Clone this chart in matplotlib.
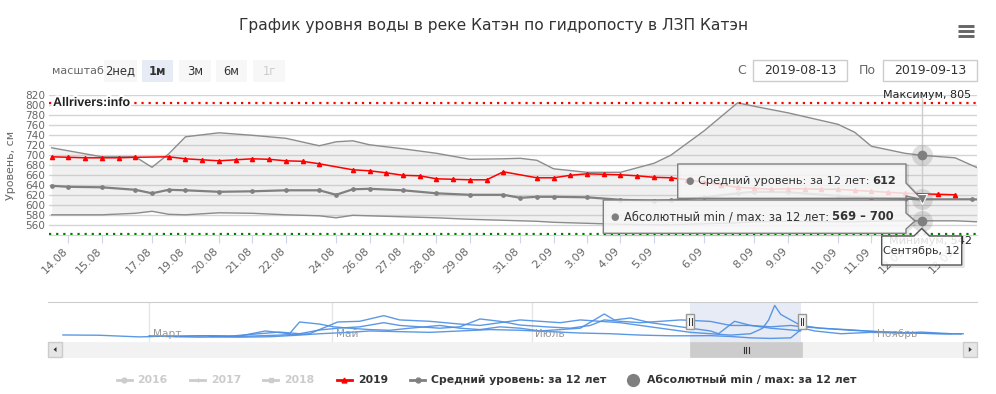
import matplotlib
matplotlib.use("Agg")
import matplotlib.pyplot as plt
from matplotlib.patches import Rectangle, Polygon
import matplotlib.patheffects as pe

plt.rcParams['font.family'] = ['DejaVu Sans']

# ------------------------------------------------------------------ data
title = "График уровня воды в реке Катэн по гидропосту в ЛЗП Катэн"
y_title = "Уровень, см"
y_ticks = list(range(560, 821, 20))

# ordinal point positions (one step per measurement) and date tick labels
tick_pos = [1, 3, 6, 8, 10, 12, 14, 17, 19, 21, 23, 25, 28, 30, 32, 34, 36, 39, 42, 44, 47, 49, 51, 54]
tick_labels = ["14.08", "15.08", "17.08", "19.08", "20.08", "21.08", "22.08", "24.08", "26.08",
               "27.08", "28.08", "29.08", "31.08", "2.09", "3.09", "4.09", "5.09", "6.09", "8.09",
               "9.09", "10.09", "11.09", "12.09", "13.09"]

# 2019 series
y2019_k = [0, 1, 2, 3, 4, 5, 7, 8, 9, 10, 11, 12, 13, 14, 15, 16, 18, 19, 20, 21, 22, 23, 24, 25, 26, 27,
           29, 30, 31, 32, 33, 34, 35, 36, 37, 38, 39, 40, 41, 42, 43, 44, 45, 46, 47, 48, 49, 50, 51, 53, 54]
y2019_v = [697, 696, 695, 695, 695, 696, 697, 693, 691, 689, 691, 693, 692, 689, 688, 683, 671, 669, 665, 660,
           659, 653, 652, 651, 651, 667, 655, 655, 660, 663, 662, 661, 659, 656, 655, 651, 646, 641, 636, 634,
           632, 633, 633, 632, 632, 630, 628, 626, 624, 622, 621]

# mean level over 12 years
mean_k = [0, 1, 3, 5, 6, 7, 8, 10, 12, 14, 16, 17, 18, 19, 21, 23, 25, 27, 28, 29, 30, 32, 34, 36, 37, 39,
          41, 42, 44, 47, 49, 51, 52, 55, 56]
mean_v = [639, 637, 636, 631, 624, 631, 630, 627, 628, 630, 630, 621, 632, 633, 630, 624, 621, 621, 615, 617,
          617, 616, 611, 609, 610, 616, 624, 627, 626, 619, 615, 613, 612, 612, 611]

# absolute min / max over 12 years
env_k = [0, 1, 3, 5, 6, 7, 8, 10, 12, 14, 16, 17, 18, 19, 21, 23, 25, 27, 28, 29, 30, 32, 34, 36, 37, 39,
         41, 42, 44, 47, 48, 49, 51, 52, 54, 56]
env_max = [715, 709, 697, 697, 676, 703, 737, 745, 740, 734, 719, 727, 729, 721, 713, 704, 692, 693, 694, 690,
           673, 666, 666, 684, 700, 749, 805, 798, 785, 762, 746, 718, 704, 700, 695, 665]
env_min = [581, 581, 581, 584, 588, 582, 581, 585, 584, 581, 579, 575, 580, 579, 577, 575, 572, 570, 569, 568,
           566, 564, 562, 561, 561, 563, 565, 567, 568, 567, 567, 568, 569, 569, 569, 566]

max_level, min_level = 805, 542
hover_k = 52
hover_mean = 612
hover_min, hover_max = 569, 700
hover_label = "Сентябрь, 12"

# navigator (same ordinal units, whole season)
nav_range = (-320.3, 142.9)
nav_months = ["Март", "Май", "Июль", "Ноябрь"]
nav_month_pos = [-270, -178.7, -79.2, 91.2]
nav_a_k = [-313, -295, -275, -260, -245, -230, -215, -205, -195, -185, -176, -165, -153, -145, -135, -125,
           -115, -105, -95, -85, -72, -60, -50, -43, -35, -25, -15, -5, 0, 10, 20, 30, 40, 48, 55]
nav_a_v = [591, 589, 577, 583, 585, 582, 600, 612, 600, 627, 640, 650, 680, 660, 650, 640,
           650, 707, 690, 663, 650, 640, 660, 700, 690, 680, 690, 700, 697, 689, 660, 660, 640, 630, 621]
nav_b_k = [-270, -255, -240, -225, -212, -200, -195, -185, -178, -170, -160, -150, -140, -125, -115, -105,
           -95, -85, -75, -65, -55, -43, -38, -30, -20, -10, 0, 10, 14, 22, 30, 40, 50, 56, 65, 80, 95, 110, 125, 135]
nav_b_v = [585, 580, 586, 583, 620, 600, 685, 670, 650, 640, 630, 625, 640, 660, 640, 630,
           650, 640, 620, 630, 640, 743, 700, 714, 680, 660, 640, 620, 600, 690, 660, 650, 660, 650, 640, 625,
           615, 605, 600, 598]
nav_c_k = [-262, -245, -230, -215, -205, -190, -176, -165, -153, -145, -130, -115, -105, -95, -85, -75, -65,
           -55, -45, -35, -20, -10, 0, 10, 20, 30, 36, 39, 42, 45, 50, 55, 65, 80, 95, 110, 125, 136]
nav_c_v = [580, 575, 578, 585, 590, 600, 685, 690, 731, 700, 690, 670, 660, 680, 700, 690, 680,
           700, 690, 680, 650, 630, 610, 600, 590, 600, 640, 700, 805, 740, 700, 660, 640, 628, 612, 605, 600, 600]
nav_d_k = [-240, -225, -210, -195, -185, -170, -160, -145, -130, -115, -100, -85, -70, -55, -40, -25, -10,
           0, 10, 20, 30, 40, 50, 56, 62, 75, 90, 105, 115, 130]
nav_d_v = [580, 575, 578, 590, 600, 610, 620, 615, 610, 620, 630, 625, 615, 605, 600, 590, 585,
           585, 586, 580, 570, 566, 570, 640, 620, 600, 610, 605, 612, 600]

range_buttons = ["2нед", "1м", "3м", "6м", "1г"]
range_selected = "1м"
range_disabled = "1г"
date_from, date_to = "2019-08-13", "2019-09-13"

legend_names = ["2016", "2017", "2018", "2019", "Средний уровень: за 12 лет", "Абсолютный min / max: за 12 лет"]

# ------------------------------------------------------------------ figure
W, H = 996, 394
fig = plt.figure(figsize=(W / 100, H / 100), dpi=100, facecolor='white')


def fx(x):
    return x / W


def fy(y):
    return 1 - y / H


L, R, T, B = 49.3, 976.7, 95.3, 235.3
ax = fig.add_axes([fx(L), fy(B), (R - L) / W, (B - T) / H])
ax.set_xlim(-0.14, 55.29)
ax.set_ylim(540, 820)
for s in ['top', 'right', 'left']:
    ax.spines[s].set_visible(False)
ax.spines['bottom'].set_color('#ccd6eb')
ax.set_yticks(y_ticks)
ax.set_yticklabels([str(v) for v in y_ticks])
ax.tick_params(axis='y', length=0, pad=3, labelsize=7.6, labelcolor='#666666')
ax.grid(axis='y', color='#d4d4d4', lw=1)
ax.set_axisbelow(True)
ax.set_xticks(tick_pos)
ax.set_xticklabels(tick_labels, rotation=45, ha='right', va='baseline', rotation_mode='anchor',
                   color='#666666', fontsize=8)
ax.tick_params(axis='x', length=6, color='#ccd6eb', pad=5.5)

ax.fill_between(env_k, env_min, env_max, color='#bdbdbd', alpha=0.22, lw=0, zorder=1)
ax.plot(env_k, env_max, color='#8c8c8c', lw=1, zorder=2)
ax.plot(env_k, env_min, color='#8c8c8c', lw=1, zorder=2)
ax.plot(mean_k, mean_v, color='#808080', lw=1.6, marker='o', ms=2.4, zorder=3)
ax.plot(y2019_k, y2019_v, color='#ff0000', lw=1.1, marker='^', ms=3.0, zorder=4)

ax.axhline(max_level, color='#ff0000', lw=1.6, ls=(0, (1, 2.2)), dash_capstyle='butt', zorder=5)
ax.axhline(min_level, color='#008000', lw=1.6, ls=(0, (1, 2.2)), dash_capstyle='butt', zorder=5)

ax.axvline(hover_k, color='#cccccc', lw=1, zorder=2)
for v in (hover_max, hover_mean, hover_min):
    ax.plot(hover_k, v, 'o', ms=15, color='#808080', alpha=0.25, mec='none', zorder=6)
ax.plot(hover_k, hover_max, 'o', ms=7, color='#7f7f7f', mec='none', zorder=7)
ax.plot(hover_k, hover_min, 'o', ms=7, color='#7f7f7f', mec='none', zorder=7)
ax.plot(hover_k, hover_mean, 'v', ms=7, color='#7f7f7f', mec='white', mew=0.8, zorder=7)

# ------------------------------------------------------------------ navigator
NL, NR, NT, NB = 48.3, 977.0, 302.0, 342.0
nav = fig.add_axes([fx(NL), fy(NB), (NR - NL) / W, (NB - NT) / H])
nav.set_xlim(*nav_range)
nav.set_ylim(540, 830)
for s in ['bottom', 'right', 'left']:
    nav.spines[s].set_visible(False)
nav.spines['top'].set_color('#cccccc')
nav.set_xticks([])
nav.set_yticks([])
for p, m in zip(nav_month_pos, nav_months):
    nav.axvline(p, color='#e6e6e6', lw=1, zorder=0)
    nav.annotate(m, xy=(p, 0), xycoords=('data', 'axes fraction'), xytext=(2.5, 2.5),
                 textcoords='offset points', fontsize=7.6, color='#999999', va='bottom', ha='left')
for kk, vv in ((nav_a_k, nav_a_v), (nav_b_k, nav_b_v), (nav_c_k, nav_c_v), (nav_d_k, nav_d_v)):
    nav.plot(kk, vv, color='#4a8ee3', lw=1, alpha=0.9)
nav.axvspan(-0.14, 55.29, color='#6685c2', alpha=0.16, lw=0)

# ------------------------------------------------------------------ overlay (pixel coordinates)
ov = fig.add_axes([0, 0, 1, 1], zorder=10)
ov.set_xlim(0, W)
ov.set_ylim(H, 0)
ov.axis('off')

ov.text(494, 25, title, ha='center', va='center', fontsize=11.2, color='#333333')
for yy in (25.8, 30.8, 35.8):
    ov.plot([958, 974], [yy, yy], color='#666666', lw=2.1, solid_capstyle='butt')

# range selector
ov.text(51.7, 70.5, "масштаб", ha='left', va='center', fontsize=8, color='#666666')
btn_x = [(104.3, 136.7), (141.7, 173.3), (179.3, 210.7), (216.0, 247.3), (253.3, 285.0)]
for (x0, x1), name in zip(btn_x, range_buttons):
    fc = '#e6ebf5' if name == range_selected else '#f7f7f7'
    ov.add_patch(Rectangle((x0, 60), x1 - x0, 21.7, fc=fc, ec='none'))
    col = '#cccccc' if name == range_disabled else '#333333'
    ov.text((x0 + x1) / 2, 71, name, ha='center', va='center', fontsize=8.3, color=col,
            fontweight='bold' if name == range_selected else 'normal')

ov.text(741.5, 70.5, "С", ha='center', va='center', fontsize=9, color='#666666')
ov.add_patch(Rectangle((753.3, 60), 94, 21, fc='white', ec='#cccccc', lw=1))
ov.text(800.3, 70.5, date_from, ha='center', va='center', fontsize=9, color='#333333')
ov.text(867, 70.5, "По", ha='center', va='center', fontsize=9, color='#666666')
ov.add_patch(Rectangle((883.3, 60), 94, 21, fc='white', ec='#cccccc', lw=1))
ov.text(930.3, 70.5, date_to, ha='center', va='center', fontsize=9, color='#333333')

# axis title and plot labels
ov.text(11, 165, y_title, rotation=90, ha='center', va='center', fontsize=8, color='#666666')
ov.text(53, 103, "Allrivers:info", ha='left', va='center', fontsize=9, fontweight='bold',
        family=['Liberation Sans', 'DejaVu Sans'], color='#222222',
        path_effects=[pe.withStroke(linewidth=3, foreground='white')])
ov.text(971, 95, f"Максимум, {max_level}", ha='right', va='center', fontsize=8, color='#222222')
ov.text(972, 241, f"Минимум, {min_level}", ha='right', va='center', fontsize=8, color='#222222', zorder=5)

# navigator handles
for hx in (690.3, 801.7):
    ov.add_patch(Rectangle((hx - 4, 314), 8, 15, fc='#f2f2f2', ec='#999999', lw=1))
    ov.plot([hx - 1.2, hx - 1.2], [318, 325], color='#333333', lw=0.7)
    ov.plot([hx + 1.2, hx + 1.2], [318, 325], color='#333333', lw=0.7)

# scrollbar
ov.add_patch(Rectangle((NL, 342), NR - NL, 15, fc='#f2f2f2', ec='#f2f2f2', lw=0.5))
ov.add_patch(Rectangle((690.3, 342), 111.4, 15, fc='#cccccc', ec='#cccccc', lw=0.5))
for gx in (743.5, 746, 748.5):
    ov.plot([gx, gx], [346.5, 352.5], color='#333333', lw=0.8)
ov.add_patch(Rectangle((NL, 342), 14, 15, fc='#e6e6e6', ec='#cccccc', lw=1))
ov.add_patch(Polygon([(53.5, 349.5), (56.5, 347), (56.5, 352)], closed=True, fc='#333333', ec='none'))
ov.add_patch(Rectangle((NR - 14, 342), 14, 15, fc='#e6e6e6', ec='#cccccc', lw=1))
ov.add_patch(Polygon([(971.8, 349.5), (968.8, 347), (968.8, 352)], closed=True, fc='#333333', ec='none'))

# legend
LY = 380
leg_sym = [(116.7, '#cccccc', 'o'), (190.0, '#cccccc', '+'), (263.0, '#cccccc', 's'),
           (336.7, '#ff0000', '^'), (410.0, '#808080', 'o')]
leg_txt_x = [137.3, 210.7, 284.3, 358.3, 431.0]
for i, ((sx, c, mk), tx) in enumerate(zip(leg_sym, leg_txt_x)):
    ov.plot([sx, sx + 15], [LY, LY], color=c, lw=2)
    ov.plot([sx + 7.5], [LY], marker=mk, color=c, ms=3.5, mew=1)
    tc = '#cccccc' if i < 3 else '#333333'
    ov.text(tx, LY, legend_names[i], ha='left', va='center', fontsize=7.8, fontweight='bold', color=tc)
ov.plot([632.7], [LY], 'o', ms=9.5, color='#7f7f7f', mec='none')
ov.text(646.7, LY, legend_names[5], ha='left', va='center', fontsize=7.8, fontweight='bold', color='#333333')

# tooltips (drawn above everything else)
TFC = (247 / 255, 247 / 255, 247 / 255, 0.85)
ZT = 20


def callout(pts, ec, fc=TFC):
    sh = [(x + 1.5, y + 1.5) for x, y in pts]
    ov.add_patch(Polygon(sh, closed=True, fc='none', ec=(0, 0, 0, 0.10), lw=2.2, joinstyle='round',
                         zorder=ZT))
    ov.add_patch(Polygon(pts, closed=True, fc=fc, ec=ec, lw=1, joinstyle='round', zorder=ZT + 1))


renderer = fig.canvas.get_renderer()


def two_part(x, y, normal, bold, size):
    t = ov.text(x, y, normal, ha='left', va='center', fontsize=size, color='#333333', zorder=ZT + 2)
    bb = t.get_window_extent(renderer=renderer)
    ov.text(bb.x1, y, bold, ha='left', va='center', fontsize=size, color='#333333', fontweight='bold',
            zorder=ZT + 2)


# range tooltip (lower)
callout([(603.3, 200), (906, 200), (906, 213), (915, 221), (906, 229), (906, 233.3), (603.3, 233.3)], '#7f7f7f')
ov.text(615, 216.5, "●", ha='center', va='center', fontsize=7, color='#7f7f7f', zorder=ZT + 2)
two_part(623.5, 216.5, "Абсолютный min / max: за 12 лет: ", f"{hover_min} – {hover_max}", 8.3)

# mean tooltip (upper)
callout([(677.7, 164), (906, 164), (906, 183), (921.7, 199.3), (906, 196), (906, 198.3), (677.7, 198.3)],
        '#7f7f7f')
ov.text(689.3, 181, "●", ha='center', va='center', fontsize=7, color='#7f7f7f', zorder=ZT + 2)
two_part(697.5, 181, "Средний уровень: за 12 лет: ", f"{hover_mean}", 8.2)

# date label under crosshair
callout([(881.7, 236), (914, 236), (921.7, 228.5), (929.4, 236), (961.7, 236), (961.7, 265), (881.7, 265)],
        '#555555', fc=(1, 1, 1, 0.85))
ov.text(921.7, 251, hover_label, ha='center', va='center', fontsize=8, color='#333333', zorder=ZT + 2)

fig.savefig("out.png", dpi=100, facecolor='white')
